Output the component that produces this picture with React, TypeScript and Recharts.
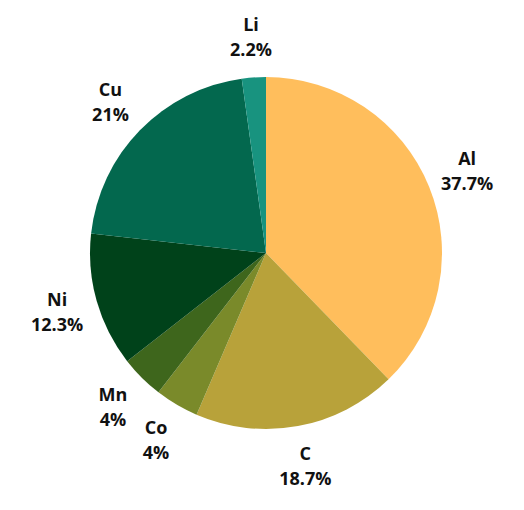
import { PieChart, Pie, Cell } from 'recharts'

const elements = ['Al', 'C', 'Co', 'Mn', 'Ni', 'Cu', 'Li']
const shares = [37.7, 18.7, 4, 4, 12.3, 21, 2.2]
const colors = ['#FFBE5C', '#B8A23A', '#7A8A2A', '#3E661C', '#00421A', '#03684E', '#18937F']

const data = elements.map((name, i) => ({ name, value: shares[i] }))

const RADIAN = Math.PI / 180

const renderLabel = (props: any) => {
  const { cx, cy, midAngle, outerRadius, index } = props
  const r = outerRadius + 41
  const x = cx + r * Math.cos(-midAngle * RADIAN)
  const y = cy + r * Math.sin(-midAngle * RADIAN)
  return (
    <text
      x={x}
      y={y}
      textAnchor="middle"
      fill="#111"
      fontSize={18}
      fontWeight="bold"
      fontFamily="'Open Sans', sans-serif"
    >
      <tspan x={x} dy={-6}>{elements[index]}</tspan>
      <tspan x={x} dy={25}>{shares[index]}%</tspan>
    </text>
  )
}

export default function App() {
  return (
    <div style={{ position: 'absolute', left: 0, top: 0, width: 524, height: 510, background: '#fff' }}>
      <PieChart width={524} height={510}>
        <Pie
          data={data}
          dataKey="value"
          nameKey="name"
          cx={261}
          cy={248}
          outerRadius={176}
          startAngle={90}
          endAngle={-270}
          stroke="none"
          label={renderLabel}
          labelLine={false}
          isAnimationActive={false}
        >
          {data.map((d, i) => (
            <Cell key={d.name} fill={colors[i]} />
          ))}
        </Pie>
      </PieChart>
    </div>
  )
}
